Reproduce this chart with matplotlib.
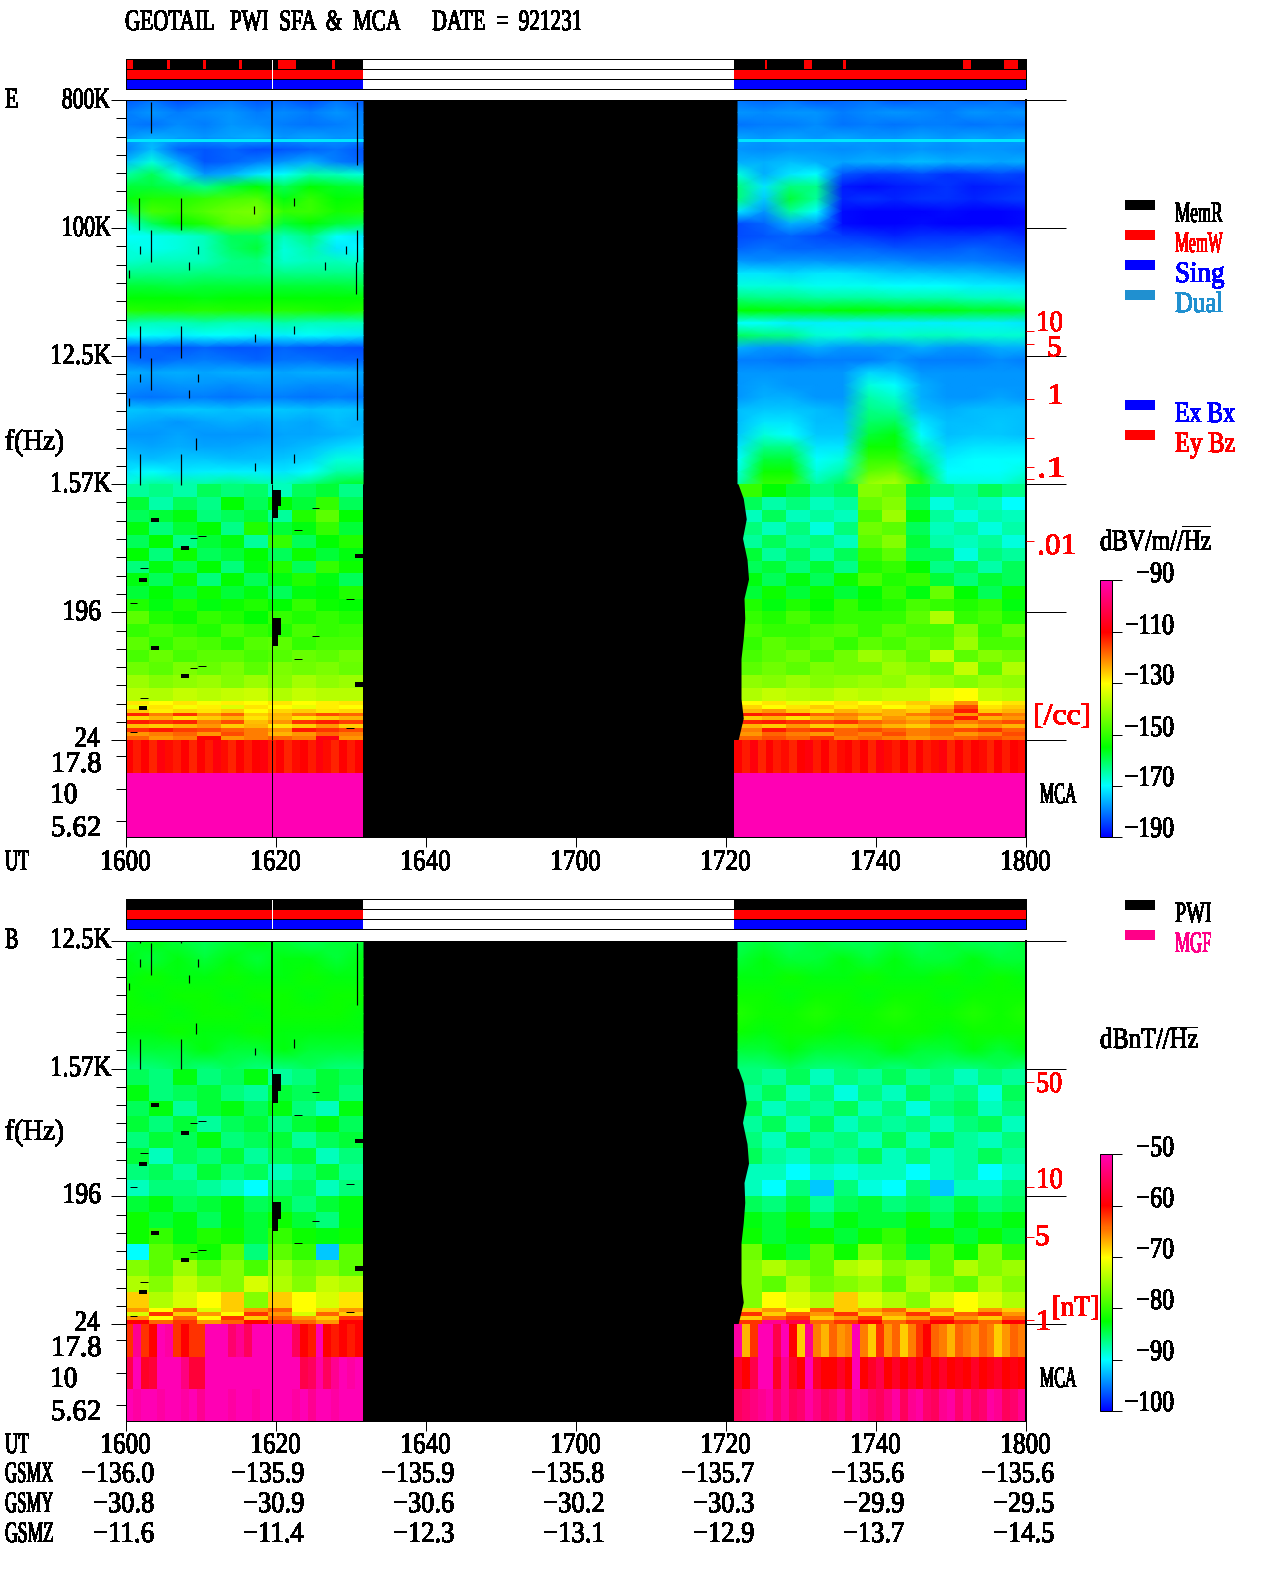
#!/usr/bin/env python
# GEOTAIL PWI SFA & MCA summary plot
import numpy as np
import matplotlib
matplotlib.use('Agg')
import matplotlib.pyplot as plt
from matplotlib.cm import ScalarMappable
from matplotlib.colors import LinearSegmentedColormap, Normalize
from matplotlib.font_manager import FontProperties
from matplotlib.patheffects import AbstractPathEffect
from matplotlib.textpath import TextPath
from matplotlib.transforms import Affine2D

W, H = 1280, 1593
PT = 0.72  # one pixel in points at dpi 100

# time in minutes after 1600
seg_left = (-0.07, 31.6)
seg_right = (81.6, 120.0)
seg_right_mca = (81.07, 120.0)
ut_ticks = [0, 20, 40, 60, 80, 100, 120]
ut_labels = ['1600', '1620', '1640', '1700', '1720', '1740', '1800']
gsmx = ['−136.0', '−135.9', '−135.9', '−135.8', '−135.7', '−135.6', '−135.6']
gsmy = ['−30.8', '−30.9', '−30.6', '−30.2', '−30.3', '−29.9', '−29.5']
gsmz = ['−11.6', '−11.4', '−12.3', '−13.1', '−12.9', '−13.7', '−14.5']

# E field, dB below 1 V/m/rtHz, top to bottom, 800K to 1.57K
e_hi_left = -np.array([
    [183,181,184,182,181,183,182,184,181,183],
    [180,178,180,179,178,180,179,180,178,180],
    [180,181,179,180,178,179,180,181,180,179],
    [178,176,177,178,177,176,178,177,178,178],
    [180,175,182,183,182,184,183,182,181,183],
    [175,168,176,183,182,180,178,176,180,182],
    [165,160,168,178,176,172,170,165,166,168],
    [158,158,160,163,158,155,160,155,157,158],
    [156,152,152,150,148,147,156,150,155,154],
    [160,148,150,147,144,143,150,149,153,152],
    [168,160,155,152,146,146,158,155,158,160],
    [170,169,168,166,160,160,166,162,170,172],
    [168,169,168,166,161,158,168,165,172,170],
    [167,166,166,166,163,162,167,166,166,167],
    [163,163,163,162,162,162,163,163,163,163],
    [158,158,159,158,158,158,158,158,158,159],
    [155,155,155,156,155,155,155,155,155,155],
    [151,152,152,151,152,152,151,152,153,152],
    [165,166,166,165,166,166,165,166,166,166],
    [170,170,171,170,170,171,171,170,171,172],
    [183,182,183,182,183,183,182,183,183,184],
    [181,182,181,180,181,182,181,181,182,182],
    [176,177,176,177,176,176,177,176,176,177],
    [178,179,178,178,179,178,178,179,179,178],
    [180,181,180,180,181,180,180,181,180,181],
    [174,175,174,174,175,174,174,175,174,175],
    [176,177,178,177,176,177,176,177,175,176],
    [178,178,177,178,178,178,177,177,176,175],
    [176,177,176,177,177,176,176,175,173,172],
    [174,175,174,174,175,175,174,173,168,168],
    [172,170,172,171,171,171,172,170,165,164],
    [168,164,165,165,163,165,166,162,158,157]])
e_hi_right = -np.array([
    [181,182,181,183,182,181,183,182,181,182,181,183],
    [178,179,178,178,180,179,178,179,180,178,179,178],
    [181,180,180,179,181,180,181,180,180,181,180,181],
    [177,178,177,178,177,178,178,177,178,177,178,177],
    [178,179,178,178,179,178,179,178,179,178,178,179],
    [176,176,175,176,177,176,176,175,176,176,177,176],
    [168,176,172,170,183,185,185,184,186,185,184,185],
    [162,172,162,163,188,189,188,187,186,188,187,186],
    [162,174,158,164,187,186,187,186,186,187,186,185],
    [172,178,164,170,189,190,190,190,189,190,190,189],
    [184,182,176,178,189,190,190,189,190,190,190,189],
    [184,183,182,184,185,186,187,186,186,186,185,187],
    [182,181,182,182,182,182,183,183,183,182,183,184],
    [178,179,178,178,179,179,179,180,180,180,181,182],
    [172,172,173,172,172,173,174,174,175,175,176,177],
    [168,168,168,169,169,169,170,170,170,171,171,172],
    [162,163,163,164,164,164,165,165,165,166,166,167],
    [155,155,156,156,155,155,156,156,156,157,157,158],
    [170,170,171,171,171,171,171,171,171,171,171,172],
    [160,162,163,167,168,166,167,166,166,167,167,167],
    [176,178,178,176,178,178,178,176,178,178,176,176],
    [180,180,181,180,180,180,178,180,180,180,179,180],
    [178,178,178,178,178,173,174,178,178,178,178,178],
    [178,177,178,178,178,168,170,176,178,178,178,178],
    [178,176,176,178,178,165,167,176,178,178,177,178],
    [175,174,174,175,176,163,164,175,176,175,175,175],
    [175,172,172,175,175,161,160,172,175,175,174,175],
    [174,168,170,174,174,158,156,170,175,174,174,175],
    [172,163,163,172,172,154,154,166,173,172,172,172],
    [170,158,158,170,168,150,150,162,171,170,170,170],
    [168,154,154,168,165,146,144,158,170,170,170,168],
    [165,150,150,165,160,140,138,150,168,168,168,165]])
# E field 1.57K to about 46 Hz
e_lo_left = -np.array([
    [164,163,165,160,162,161,166,160,158,163],
    [158,165,160,163,155,160,155,158,150,160],
    [160,158,156,162,160,158,164,152,146,155],
    [156,162,158,155,163,152,158,156,150,158],
    [160,155,163,158,156,164,150,160,155,152],
    [155,162,154,160,158,155,160,154,158,156],
    [162,156,160,155,162,156,152,160,150,154],
    [156,160,154,162,155,160,156,152,156,160],
    [158,155,158,154,158,156,160,156,155,152],
    [152,156,152,156,154,152,155,150,154,155],
    [146,152,154,150,152,155,150,152,150,152],
    [150,148,150,152,148,150,152,148,150,149],
    [146,150,147,148,151,147,146,150,148,148],
    [148,145,148,146,146,148,147,145,146,144],
    [144,146,143,145,143,146,143,144,143,145],
    [140,142,141,140,142,140,142,139,141,140],
    [137,138,136,137,136,135,138,136,137,137]])
e_lo_right = -np.array([
    [150,155,158,162,160,142,144,158,162,164,160,163],
    [160,165,162,166,164,145,142,160,168,165,166,170],
    [166,160,166,164,166,148,140,156,164,168,165,166],
    [162,166,162,168,162,144,146,160,166,164,168,165],
    [164,160,164,162,166,146,142,158,165,166,164,168],
    [158,164,160,165,160,150,146,160,160,168,162,164],
    [160,158,162,158,163,152,150,155,163,160,165,160],
    [156,160,156,160,154,148,152,150,158,162,158,160],
    [158,154,158,154,158,155,150,156,145,155,160,154],
    [152,156,152,155,150,154,152,148,150,152,150,156],
    [150,152,148,152,150,150,150,146,138,150,148,152],
    [148,150,150,148,147,150,146,148,148,142,150,145],
    [150,146,148,146,150,146,148,145,147,140,148,148],
    [148,146,144,148,144,140,142,146,136,146,142,144],
    [146,144,146,143,144,144,140,142,144,136,146,138],
    [141,142,140,142,141,140,141,138,140,142,140,141],
    [138,136,137,138,136,137,136,136,132,130,136,137]])
# E field, the thin striped rows just above 24 Hz
e_fringe_left = -np.array([
    [128,130,128,131,129,130,128,130,129,128],
    [132,128,131,129,133,128,130,132,129,130],
    [126,129,127,128,126,130,127,126,128,127],
    [113,120,114,122,118,126,124,120,116,118],
    [127,124,128,126,124,128,125,128,126,124],
    [112,114,113,120,116,125,122,114,112,115],
    [125,126,124,122,126,124,128,126,122,126],
    [114,112,115,116,118,120,122,112,114,116],
    [122,120,118,122,116,120,124,122,118,120],
    [118,122,120,110,122,120,118,120,108,122]])
e_fringe_right = -np.array([
    [130,128,132,130,128,130,128,126,128,122,130,128],
    [127,130,128,126,129,127,130,128,124,116,128,126],
    [124,122,126,128,124,126,124,126,120,112,126,124],
    [112,114,113,118,120,122,124,120,118,122,116,120],
    [126,124,128,124,122,126,122,124,122,112,124,122],
    [113,112,114,116,114,118,120,122,116,120,118,116],
    [124,126,122,126,124,122,124,126,122,124,122,124],
    [120,112,116,114,118,116,118,120,118,116,114,118],
    [122,118,120,122,118,120,116,120,118,122,120,116],
    [118,116,118,114,120,118,120,122,120,118,116,118]])
# E field MCA channels 17.8, 10, 5.62
e_mca_left = -np.array([
    [110,112,110,113,109,111,112,110,113,110,112,109,111,113,110,112,110,109,112,110,113,111,110,112,109,111,113,110,112,110],
    [90]*30, [90]*30])
e_mca_right = -np.array([
    [110,112,109,113,110,112,111,113,110,109,112,110,113,111,110,112,110,113,109,111,112,110,113,110,112,111,109,113,110,112,110,111,113,110,112,110,111],
    [90]*37, [90]*37])

# B field, dB below 1 nT/rtHz, 12.5K to 1.57K
b_hi_left = -np.array([
    [84,83,84,85,84,83,84,85,84,84],
    [83,84,83,84,83,84,83,83,84,83],
    [83,82,83,83,82,83,83,82,83,83],
    [82,83,82,82,83,82,82,83,82,82],
    [82,82,83,82,82,83,82,82,82,83],
    [83,83,82,83,83,82,83,83,83,83],
    [84,84,84,83,84,84,83,84,84,84],
    [86,86,85,86,85,86,86,85,86,86]])
b_hi_right = -np.array([
    [85,84,85,84,85,85,84,85,84,85,85,84],
    [84,83,84,84,83,84,83,84,84,83,84,84],
    [83,83,82,83,83,82,83,83,82,83,82,83],
    [82,82,83,82,82,83,82,82,83,82,82,82],
    [81,82,82,81,82,82,81,82,82,81,82,81],
    [82,83,82,82,83,82,82,82,83,82,82,82],
    [84,84,83,84,84,84,83,84,84,83,84,83],
    [86,86,85,86,86,85,86,85,86,86,85,86]])
# B field 1.57K to about 32 Hz
b_lo_left = -np.array([
    [85,86,83,86,85,83,87,86,84,85],
    [83,86,85,84,86,87,84,85,84,86],
    [85,83,87,84,83,85,83,86,88,83],
    [84,86,84,87,85,84,86,84,83,85],
    [86,84,85,83,86,85,84,87,85,84],
    [84,88,85,86,84,87,85,84,88,86],
    [86,85,87,84,86,85,88,86,84,87],
    [88,86,86,87,88,90,86,85,88,86],
    [84,83,85,84,83,85,84,86,84,83],
    [82,84,83,85,83,84,82,84,86,83],
    [82,80,83,81,82,84,80,82,83,82],
    [90,78,80,82,78,86,78,80,92,78],
    [76,78,75,78,76,79,75,77,76,78],
    [74,76,73,75,76,72,74,76,73,74],
    [68,74,72,70,68,76,68,70,72,69]])
b_lo_right = -np.array([
    [86,87,85,88,86,87,85,87,86,88,86,87],
    [87,85,88,86,89,86,88,85,87,86,89,85],
    [85,88,86,87,85,88,86,89,86,85,88,86],
    [87,85,88,85,88,86,87,86,88,86,85,88],
    [86,88,85,87,86,88,85,88,85,87,88,86],
    [85,87,88,86,87,85,88,86,88,87,85,87],
    [88,88,90,88,89,88,88,90,88,87,90,88],
    [88,90,86,92,86,89,90,86,92,88,88,86],
    [85,86,84,87,85,84,86,85,86,84,86,85],
    [83,84,82,85,83,84,84,82,85,83,84,83],
    [82,84,83,82,84,82,80,83,82,84,82,84],
    [77,82,84,78,82,76,79,84,78,82,76,80],
    [76,74,76,78,74,73,76,75,78,74,76,75],
    [76,78,74,77,76,75,78,74,76,78,74,76],
    [76,70,72,74,68,72,74,76,72,70,72,74]])
b_fringe_left = -np.array([
    [66,70,64,72,68,66,64,70,68,66],
    [72,62,68,66,70,62,66,72,64,68],
    [66,70,64,70,62,68,64,66,68,62],
    [60,64,62,66,64,60,62,64,66,60]])
b_fringe_right = -np.array([
    [68,66,70,64,68,66,64,68,66,70,66,68],
    [62,68,64,66,62,68,66,62,68,64,62,66],
    [68,64,62,68,66,62,68,66,62,66,68,64],
    [62,52,56,64,62,60,64,62,60,62,64,60]])
b_mca_left = -np.array([
    [62,52,62,60,50,51,62,60,62,62,50,50,50,54,52,55,50,50,50,50,50,55,60,61,50,60,61,60,61,60],
    [56,50,58,57,50,50,50,53,57,57,50,50,50,50,50,50,50,50,50,50,50,50,56,55,51,55,52,50,51,50],
    [50,51,50,50,51,50,50,51,50,52,50,50,50,51,50,50,51,50,50,50,50,51,50,52,50,50,51,50,50,50]])
b_mca_right = -np.array([
    [51,67,62,50,50,56,50,60,68,52,65,67,64,66,65,50,65,68,62,66,64,68,65,62,60,64,65,67,64,65,66,64,65,68,66,64,65],
    [58,60,56,50,50,58,52,58,60,50,58,60,60,58,60,50,60,58,56,60,58,60,58,60,58,60,58,60,59,60,58,60,59,58,60,59,60],
    [55,54,53,52,51,54,52,55,54,51,53,55,54,52,55,51,52,54,55,53,51,55,52,51,54,55,52,51,54,52,55,54,51,52,55,54,52]])

# thin bright line in panel E, Hz
e_streak_f = 418e3
e_streak_db = -172

# data dropouts, same for E and B: time, top and bottom frequency in Hz
drop_t = [3.3, 1.7, 7.3, 3.3, 1.9, 9.6, 8.4, 0.4, 17.1, 22.4, 30.8, 30.8, 30.6, 29.3, 26.5,
          1.8, 7.3, 3.3, 1.9, 9.6, 8.4, 0.4, 22.4, 17.2, 30.8, 1.8, 7.3, 17.2, 22.4, 9.3]
drop_hi = [774e3, 162e3, 162e3, 96.5e3, 74.7e3, 74.7e3, 57.6e3, 50.6e3, 143e3, 162e3, 774e3, 96.5e3, 57.6e3, 74.7e3, 57.6e3,
           20.3e3, 20.3e3, 12.1e3, 9.35e3, 9.35e3, 7.2e3, 6.3e3, 20.3e3, 17.8e3, 12.1e3, 2530, 2530, 2200, 2530, 3300]
drop_lo = [468e3, 96.5e3, 96.5e3, 57.6e3, 65.5e3, 65.5e3, 50.6e3, 44.5e3, 126e3, 143e3, 278e3, 57.6e3, 34.2e3, 65.5e3, 50.6e3,
           12.1e3, 12.1e3, 7.2e3, 8.2e3, 8.2e3, 6.3e3, 5.6e3, 17.8e3, 15.6e3, 4.4e3, 1540, 1540, 1950, 2200, 2730]
block_t0 = [19.5, 19.5, 19.5, 19.5, 3.3, 7.3, 1.7, 30.5, 3.3, 7.3, 1.7, 30.5]
block_t1 = [20.6, 20.2, 20.6, 20.2, 4.4, 8.4, 2.8, 31.6, 4.4, 8.4, 2.8, 31.6]
block_hi = [1420, 1090, 177, 136, 898, 570, 340, 500, 112, 71.5, 42.5, 62.5]
block_lo = [1090, 898, 136, 112, 841, 533, 318, 468, 105, 66.9, 39.7, 58.4]
dash_f = [399, 648, 671, 226, 1060, 740, 132, 92, 241, 27.8, 48.9, 79.5, 82, 30]
dash_t0 = [1.9, 8.5, 9.6, 0.5, 24.8, 22.4, 24.8, 22.4, 29.3, 0.5, 1.9, 8.5, 9.6, 29.3]
dash_t1 = [2.9, 9.5, 10.7, 1.4, 25.7, 23.5, 25.7, 23.5, 30.4, 1.4, 2.9, 9.5, 10.7, 30.4]
# slanted black edge after the gap
wedge_f = [1570, 1240, 890, 650, 460, 335, 245, 177, 128, 92, 66, 48, 35, 24.4]
wedge_t = [81.6, 82.3, 82.7, 82.2, 82.8, 83.0, 82.4, 82.5, 82.3, 82.0, 82.0, 82.0, 82.3, 81.6]

# red memory write marks in the status bar
memw_marks = [(-0.07, 1.0), (5.5, 0.3), (10.3, 0.3), (15.0, 0.4), (20.2, 2.4), (27.4, 0.4),
              (85.2, 0.3), (90.4, 1.1), (95.6, 0.4), (111.6, 1.0), (117.0, 1.9)]

# axis labels
major_e = [800e3, 100e3, 12.5e3, 1562.5, 195.3, 24.41]
major_b = [12.5e3, 1562.5, 195.3, 24.41]
mca_f = [17.8, 10, 5.62]
red_e = [18.9e3, 15.2e3, 6.2e3, 3.3e3, 2.05e3, 1.7e3, 620]
red_b = [1256, 229, 101, 26]
e_cbar_ticks = [-190, -170, -150, -130, -110, -90]
b_cbar_ticks = [-100, -90, -80, -70, -60, -50]

scale_colors = [(0, '#0000ff'), (0.2, '#00ffff'), (0.35, '#00ff00'), (0.6, '#ffff00'), (0.8, '#ff0000'), (1, '#ff00b4')]
spec_cmap = LinearSegmentedColormap.from_list('pwi', scale_colors, N=256)

FP = FontProperties(family='Liberation Serif')
EM = 29.5


class Squeeze(AbstractPathEffect):
    # the original font is a narrow bitmap one, so pinch the glyphs sideways
    def __init__(self, x0, sx):
        super().__init__()
        self.x0 = x0
        self.sx = sx

    def draw_path(self, renderer, gc, tpath, affine, rgbFace=None):
        pinch = Affine2D().translate(-self.x0, 0).scale(self.sx, 1).translate(self.x0, 0)
        renderer.draw_path(gc, tpath, affine + pinch, rgbFace)


def label(x, y, s, color='k', align='l', pitch=11.8):
    # x is left, centre or right edge in pixels, y the middle of the digits
    natural = TextPath((0, 0), s, size=EM, prop=FP).get_extents().width
    target = pitch * len(s)
    if align == 'r':
        x = x - target
    elif align == 'c':
        x = x - target / 2
    fig.text(x / W, 1 - (y + 10) / H, s, color=color, family='Liberation Serif', fontsize=EM * PT,
             ha='left', va='baseline', antialiased=False,
             path_effects=[Squeeze(x, target / natural)])


def add_ax(x0, y0, x1, y1):
    return fig.add_axes([x0 / W, 1 - y1 / H, (x1 - x0) / W, (y1 - y0) / H])


def status_bar(y0, marks):
    ax = add_ax(125.5, y0, 1026, y0 + 30)
    ax.set_xlim(-0.07, 120)
    ax.set_ylim(3, 0)
    ax.set_xticks([])
    ax.set_yticks([])
    ax.hlines([1, 2], -0.07, 120, color='k', lw=PT)
    for seg in (seg_left, seg_right_mca):
        span = [(seg[0], seg[1] - seg[0])]
        ax.broken_barh(span, (0, 1), color='k', lw=0)
        ax.broken_barh(span, (1, 1), color='#ff0000', lw=0)
        ax.broken_barh(span, (2, 1), color='#0000ff', lw=0)
    if marks:
        ax.broken_barh(marks, (0, 1), color='#ff0000', lw=0)
    ax.vlines(19.4, 0, 3, color='w', lw=PT)
    for s in ax.spines.values():
        s.set_linewidth(PT)


def draw_mesh(ax, seg, f_top, f_bot, grid, vmin, vmax, smooth):
    rows, cols = grid.shape
    if smooth:
        ax.pcolormesh(np.linspace(seg[0], seg[1], cols), np.geomspace(f_top, f_bot, rows), grid,
                      cmap=spec_cmap, vmin=vmin, vmax=vmax, shading='gouraud')
    else:
        ax.pcolormesh(np.linspace(seg[0], seg[1], cols + 1), np.geomspace(f_top, f_bot, rows + 1), grid,
                      cmap=spec_cmap, vmin=vmin, vmax=vmax, shading='flat')


def panel(y_top, y_mid, y_bot, major, red, f_split, hi_l, hi_r, lo_l, lo_r, fr_l, fr_r, mca_l, mca_r, vmin, vmax):
    f_top, f_bot = major[0], 24.41
    ax = add_ax(125.5, y_top, 1026, y_mid)
    ax.set_facecolor('k')
    ax.set_yscale('log')
    ax.set_xlim(-0.07, 120)
    ax.set_ylim(f_bot, f_top)
    draw_mesh(ax, seg_left, f_top, 1562.5, hi_l, vmin, vmax, True)
    draw_mesh(ax, seg_right, f_top, 1562.5, hi_r, vmin, vmax, True)
    draw_mesh(ax, seg_left, 1562.5, f_split, lo_l, vmin, vmax, False)
    draw_mesh(ax, seg_right, 1562.5, f_split, lo_r, vmin, vmax, False)
    draw_mesh(ax, seg_left, f_split, f_bot, fr_l, vmin, vmax, False)
    draw_mesh(ax, seg_right, f_split, f_bot, fr_r, vmin, vmax, False)
    if f_top > e_streak_f:
        streak_color = spec_cmap(Normalize(vmin, vmax)(e_streak_db))
        ax.hlines(e_streak_f, seg_left[0], seg_left[1], color=streak_color, lw=3 * PT)
        ax.hlines(e_streak_f, seg_right[0], seg_right[1], color=streak_color, lw=3 * PT)
    ax.vlines(drop_t, drop_lo, drop_hi, color='k', lw=1.2 * PT)
    for t0, t1, hi, lo in zip(block_t0, block_t1, block_hi, block_lo):
        ax.fill_between([t0, t1], lo, hi, color='k', lw=0)
    ax.hlines(dash_f, dash_t0, dash_t1, color='k', lw=PT)
    ax.fill_betweenx(wedge_f, 81.0, wedge_t, color='k', lw=0)
    ax.vlines(19.4, 1562.5, f_top, color='k', lw=2 * PT)
    ax.vlines(19.4, f_bot, 1562.5, color='k', lw=PT)
    steps = int(round(np.log(f_top / f_bot) / np.log(8) * 7))
    ax.set_yticks(major)
    ax.set_yticks(np.geomspace(f_bot, f_top, steps + 1), minor=True)
    ax.set_xticks([])
    ax.tick_params(axis='y', which='major', length=15 * PT, width=PT, labelleft=False)
    ax.tick_params(axis='y', which='minor', length=10 * PT, width=PT, labelleft=False)
    ax.spines['bottom'].set_visible(False)
    ax.spines['left'].set_linewidth(PT)
    ax.spines['top'].set_linewidth(PT)
    ax.spines['right'].set_linewidth(2 * PT)

    long_ax = ax.twinx()
    red_ax = ax.twinx()
    for tw, ticks, length, col in ((long_ax, major, 40, 'k'), (red_ax, red, 8, '#ff0000')):
        tw.set_yscale('log')
        tw.set_ylim(f_bot, f_top)
        tw.set_yticks(ticks)
        tw.minorticks_off()
        tw.tick_params(axis='y', which='major', length=length * PT, width=PT, color=col, labelright=False)
        for s in tw.spines.values():
            s.set_visible(False)

    mca = add_ax(125.5, y_mid, 1026, y_bot)
    mca.set_facecolor('k')
    mca.set_yscale('log')
    mca.set_xlim(-0.07, 120)
    mca.set_ylim(4.22, 23.7)
    draw_mesh(mca, seg_left, 23.7, 4.22, mca_l, vmin, vmax, False)
    draw_mesh(mca, seg_right_mca, 23.7, 4.22, mca_r, vmin, vmax, False)
    mca.vlines(19.4, 4.22, 23.7, color='k', lw=PT)
    mca.set_yticks(mca_f)
    mca.minorticks_off()
    mca.set_xticks(ut_ticks)
    mca.tick_params(axis='both', length=10 * PT, width=PT, labelleft=False, labelbottom=False)
    mca.spines['top'].set_visible(False)
    mca.spines['right'].set_linewidth(2 * PT)
    for side in ('left', 'bottom'):
        mca.spines[side].set_linewidth(PT)


def scale_bar(y0, y1, vmin, vmax, ticks):
    cax = add_ax(1100, y0, 1111.7, y1)
    cb = fig.colorbar(ScalarMappable(Normalize(vmin, vmax), spec_cmap), cax=cax)
    cb.set_ticks(ticks)
    cb.ax.tick_params(length=10 * PT, width=PT, labelright=False)
    cb.ax.minorticks_off()
    cb.outline.set_linewidth(PT)


fig = plt.figure(figsize=(W / 100, H / 100), dpi=100)

status_bar(59.3, memw_marks)
status_bar(899.3, None)
panel(100, 740.3, 837, major_e, red_e, 46.5, e_hi_left, e_hi_right, e_lo_left, e_lo_right,
      e_fringe_left, e_fringe_right, e_mca_left, e_mca_right, -190, -90)
panel(940.7, 1324.3, 1421, major_b, red_b, 31.7, b_hi_left, b_hi_right, b_lo_left, b_lo_right,
      b_fringe_left, b_fringe_right, b_mca_left, b_mca_right, -100, -50)
scale_bar(580.3, 837.3, -190, -90, e_cbar_ticks)
scale_bar(1154.3, 1411, -100, -50, b_cbar_ticks)

label(125, 20, 'GEOTAIL   PWI  SFA  &  MCA      DATE  =  921231', pitch=455 / 47)

# left axis labels, panel E
label(5, 98, 'E')
for txt, y, xr in [('800K', 98, 109), ('100K', 226, 109), ('12.5K', 354, 109), ('1.57K', 482, 109),
                   ('196', 610, 98), ('24', 737, 98), ('17.8', 762, 98), ('10', 793, 74), ('5.62', 826, 98)]:
    label(xr, y, txt, align='r')
label(5, 440, 'f(Hz)', pitch=11.4)
label(5, 860, 'UT')
# left axis labels, panel B
label(5, 938, 'B')
for txt, y, xr in [('12.5K', 938, 109), ('1.57K', 1066, 109), ('196', 1193, 98), ('24', 1321, 98),
                   ('17.8', 1346, 98), ('10', 1377, 74), ('5.62', 1410, 98)]:
    label(xr, y, txt, align='r')
label(5, 1130, 'f(Hz)', pitch=11.4)

label(5, 1443, 'UT')
label(5, 1472, 'GSMX')
label(5, 1502, 'GSMY')
label(5, 1532, 'GSMZ')
for i, t in enumerate(ut_ticks):
    xc = 124 + 7.5 * t
    label(xc, 860, ut_labels[i], align='c')
    label(xc, 1443, ut_labels[i], align='c')
    label(xc + 28, 1472, gsmx[i], align='r')
    label(xc + 28, 1502, gsmy[i], align='r')
    label(xc + 28, 1532, gsmz[i], align='r')

# red density and field scales
for txt, x, y in [('10', 1036, 321), ('5', 1047, 346), ('1', 1047, 394), ('.1', 1037, 467), ('.01', 1037, 544)]:
    label(x, y, txt, color='#ff0000')
label(1033, 714, '[/cc]', color='#ff0000', pitch=10.7)
for txt, x, y in [('50', 1036, 1082), ('10', 1036, 1178), ('5', 1035, 1235), ('1', 1035, 1320)]:
    label(x, y, txt, color='#ff0000')
label(1052, 1306, '[nT]', color='#ff0000', pitch=10.8)
label(1040, 793, 'MCA', pitch=12)
label(1040, 1377, 'MCA', pitch=12)

# legends
for y, txt, col in [(200, 'MemR', 'k'), (230, 'MemW', '#ff0000'), (260, 'Sing', '#0000ff'), (290, 'Dual', '#2090d0'),
                    (400, 'Ex Bx', '#0000ff'), (430, 'Ey Bz', '#ff0000'), (900, 'PWI', 'k'), (930, 'MGF', '#ff0088')]:
    fig.patches.append(plt.Rectangle((1125 / W, 1 - (y + 10) / H), 30 / W, 10 / H, color=col, lw=0, transform=fig.transFigure))
    label(1175, y + 12, txt, color=col)

label(1100, 540, 'dBV/m//Hz', pitch=12.2)
fig.add_artist(plt.Line2D([1182 / W, 1210 / W], [1 - 526 / H, 1 - 526 / H], color='k', lw=PT))
label(1100, 1038, 'dBnT//Hz', pitch=12.1)
fig.add_artist(plt.Line2D([1170 / W, 1197 / W], [1 - 1027 / H, 1 - 1027 / H], color='k', lw=PT))

for v, y in zip(e_cbar_ticks, [827, 776, 726, 674, 624, 572]):
    label(1172, y, '−%d' % abs(v), align='r')
for v, y in zip(b_cbar_ticks, [1401, 1350, 1299, 1248, 1197, 1146]):
    label(1172, y, '−%d' % abs(v), align='r')

fig.savefig('out.png', dpi=100, facecolor='w')
